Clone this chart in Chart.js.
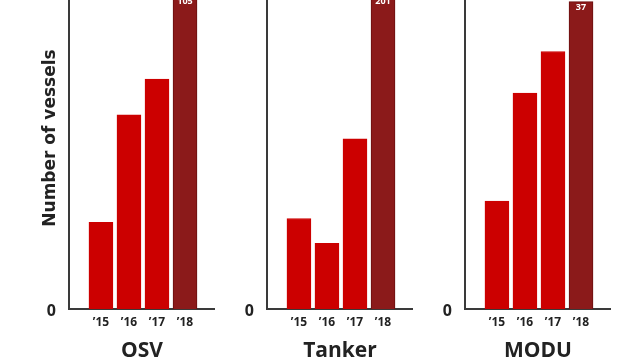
<!DOCTYPE html>
<html>
<head>
<meta charset="utf-8">
<script src="https://cdn.jsdelivr.net/npm/chart.js@4/dist/chart.umd.min.js"></script>
<style>
body { margin: 0; background: #fff; width: 640px; height: 360px; overflow: hidden; position: relative; }
canvas { position: absolute; top: 0; }
</style>
</head>
<body>
<canvas id="c0" width="200" height="360" style="left:15px"></canvas>
<canvas id="c1" width="200" height="360" style="left:213px"></canvas>
<canvas id="c2" width="200" height="360" style="left:411px"></canvas>
<script>
var years = ["’15", "’16", "’17", "’18"];
var panels = ["OSV", "Tanker", "MODU"];
var osvCounts = [29, 65, 77, 105];
var tankerCounts = [58, 42, 109, 201];
var moduCounts = [13, 26, 31, 37];
var yTicks = [0];
var yTitle = "Number of vessels";

// top of each panel's axis (the 2018 bars run off the top)
var panelMax = [103.5, 198, 37.2];
var allCounts = [osvCounts, tankerCounts, moduCounts];

var FONT = '"Open Sans", "DejaVu Sans", sans-serif';
var INK = '#222';

// white count on top of the last bar
var valueLabel = {
    id: 'valueLabel',
    afterDatasetsDraw: function(chart) {
        var ctx = chart.ctx;
        var data = chart.data.datasets[0].data;
        var i = data.length - 1;
        var bar = chart.getDatasetMeta(0).data[i];
        var y = chart.scales.y.getPixelForValue(data[i].y);
        ctx.save();
        ctx.fillStyle = '#fff';
        ctx.font = 'bold 9px ' + FONT;
        ctx.textAlign = 'center';
        ctx.textBaseline = 'middle';
        ctx.fillText(String(data[i].y), bar.x, y + 6);
        ctx.restore();
    }
};

var sideTitle = {
    id: 'sideTitle',
    afterDraw: function(chart) {
        var ctx = chart.ctx;
        ctx.save();
        ctx.translate(36, 138);
        ctx.rotate(-Math.PI / 2);
        ctx.fillStyle = INK;
        ctx.font = 'bold 17px "DejaVu Sans", sans-serif';
        ctx.textAlign = 'center';
        ctx.textBaseline = 'middle';
        ctx.fillText(yTitle, 0, 0);
        ctx.restore();
    }
};

function makePanel(n) {
    var counts = allCounts[n];
    var points = [];
    var colors = [];
    var borders = [];
    for (var i = 0; i < counts.length; i++) {
        var last = i == counts.length - 1;
        points.push({ x: i, y: counts[i] });
        colors.push(last ? '#8b1a1a' : '#cc0000');
        borders.push(last ? '#6a0e0e' : '#cc0000');
    }
    var plugins = [valueLabel];
    if (n == 0) plugins.push(sideTitle);

    new Chart(document.getElementById('c' + n), {
        type: 'bar',
        data: {
            datasets: [{
                data: points,
                backgroundColor: colors,
                borderColor: borders,
                borderWidth: 1,
                barThickness: 24
            }]
        },
        options: {
            responsive: false,
            animation: false,
            devicePixelRatio: 1,
            layout: { padding: 0 },
            plugins: { legend: { display: false }, tooltip: { enabled: false } },
            scales: {
                x: {
                    type: 'linear',
                    offset: false,
                    min: -1.14,
                    max: 4.07,
                    grid: { display: false, drawTicks: false, offset: false },
                    border: { display: true, color: '#3a3a3a', width: 2 },
                    ticks: {
                        autoSkip: false, maxRotation: 0, padding: 6,
                        color: INK, font: { family: FONT, size: 12, weight: 'bold' },
                        callback: function(v) { return years[v]; }
                    },
                    afterBuildTicks: function(axis) {
                        axis.ticks = years.map(function(y, i) { return { value: i }; });
                    },
                    title: {
                        display: true, text: panels[n], color: INK,
                        padding: { top: 0, bottom: -4 },
                        font: { family: FONT, size: 21, weight: 'bold' }
                    },
                    afterFit: function(axis) {
                        axis.height = 51;
                        axis.paddingLeft = 0;
                        axis.paddingRight = 0;
                    }
                },
                y: {
                    min: 0,
                    max: panelMax[n],
                    grid: { display: false, drawTicks: false },
                    border: { display: true, color: '#3a3a3a', width: 2 },
                    ticks: {
                        padding: 13, labelOffset: 2, color: INK,
                        font: { family: FONT, size: 16, weight: 'bold' }
                    },
                    afterBuildTicks: function(axis) {
                        axis.ticks = yTicks.map(function(v) { return { value: v }; });
                    },
                    afterFit: function(axis) {
                        axis.width = 54;
                        axis.paddingTop = 0;
                        axis.paddingBottom = 0;
                    }
                }
            }
        },
        plugins: plugins
    });
}

for (var p = 0; p < panels.length; p++) {
    makePanel(p);
}
</script>
</body>
</html>
